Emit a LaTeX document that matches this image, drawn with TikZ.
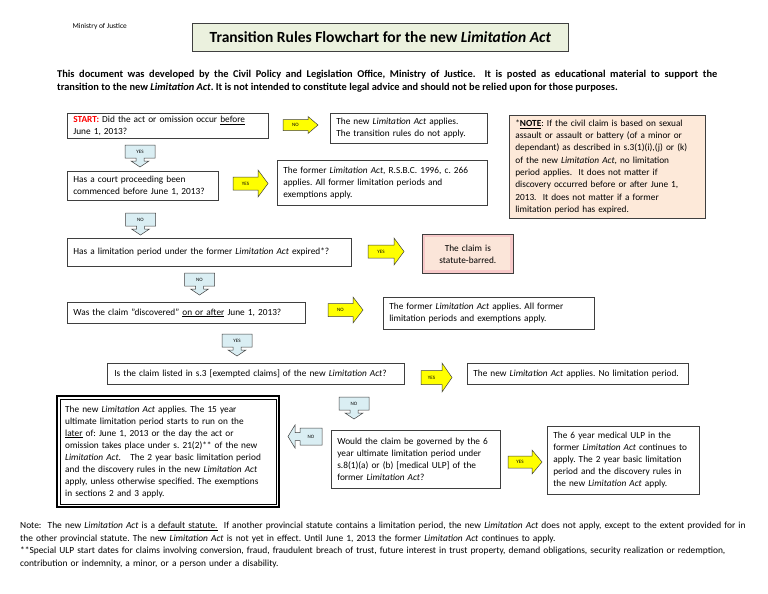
\documentclass[tikz,border=0pt]{standalone}
\usepackage{fontspec}
\setmainfont{Carlito}
\usepackage{xcolor}
\definecolor{edgegray}{HTML}{3F3F3F}
\definecolor{titlegreen}{HTML}{EBF1DE}
\definecolor{notepeach}{HTML}{FDE9D9}
\definecolor{barredpink}{HTML}{F7C9C9}
\definecolor{barredin}{HTML}{FBE5D9}
\definecolor{calloutblue}{HTML}{DAEEF3}
\definecolor{arrowyellow}{HTML}{FFFF00}
\newcommand{\LA}{\textit{Limitation Act}}
% yellow block arrow pointing right: name, x1, x2, y centre, half shaft, half head, label
\newcommand{\rightblock}[7]{%
  \filldraw[yarrow] (#2,{#4-#5}) -- ({#3-10},{#4-#5}) -- ({#3-10},{#4-#6}) -- (#3,#4)
    -- ({#3-10},{#4+#6}) -- ({#3-10},{#4+#5}) -- (#2,{#4+#5}) -- cycle;
  \node[arrtext] (#1) at ({(#2+#3-10)/2},#4) {#7};}
% blue callout pointing down: name, x centre, y top, label
\newcommand{\downcall}[4]{%
  \filldraw[barrow] ({#2-15},#3) -- ({#2+15},#3) -- ({#2+15},{#3+13}) -- ({#2+4},{#3+13})
    -- ({#2+4},{#3+16}) -- ({#2+9},{#3+16}) -- (#2,{#3+22}) -- ({#2-9},{#3+16})
    -- ({#2-4},{#3+16}) -- ({#2-4},{#3+13}) -- ({#2-15},{#3+13}) -- cycle;
  \node[arrtext] (#1) at (#2,{#3+6.5}) {#4};}
% blue callout pointing left: name, x right, y centre, label
\newcommand{\leftcall}[4]{%
  \filldraw[barrow] (#2,{#3-8.5}) -- (#2,{#3+8.5}) -- ({#2-22},{#3+8.5}) -- ({#2-22},{#3+4})
    -- ({#2-27},{#3+4}) -- ({#2-27},{#3+11.5}) -- ({#2-34},#3) -- ({#2-27},{#3-11.5})
    -- ({#2-27},{#3-4}) -- ({#2-22},{#3-4}) -- ({#2-22},{#3-8.5}) -- cycle;
  \node[arrtext] (#1) at ({#2-11},#3) {#4};}

\begin{document}
\frenchspacing
\begin{tikzpicture}[x=1pt,y=-1pt,
  every node/.style={font=\fontsize{9.3}{12}\selectfont},
  box/.style={draw=edgegray,line width=0.7pt,anchor=north west,align=left,
    inner xsep=6pt,inner ysep=0pt},
  yarrow/.style={fill=arrowyellow,draw=edgegray,line width=0.5pt},
  barrow/.style={fill=calloutblue,draw=edgegray,line width=0.5pt},
  arrtext/.style={font=\fontsize{5}{6}\selectfont,inner sep=0pt}]
  \useasboundingbox[fill=white] (0,0) rectangle (768,594);
  % header
  \node[anchor=west,font=\fontsize{7.4}{8}\selectfont] (ministry) at (69,27) {Ministry of Justice};
  \node[draw=edgegray,line width=0.8pt,fill=titlegreen,anchor=north west,minimum width=376pt,
    minimum height=28pt,font=\fontsize{15.5}{17}\selectfont\bfseries] (title) at (192,23)
    {Transition Rules Flowchart for the new \textit{Limitation Act}};
  \node[anchor=north west,text width=660pt,align=justify,inner sep=0pt,
    font=\fontsize{10.4}{12.5}\selectfont\bfseries] (intro) at (57,70)
    {This document was developed by the Civil Policy and Legislation Office, Ministry of Justice.\ \ It is posted as educational material to support the\linebreak
     transition to the new \LA. It is not intended to constitute legal advice and should not be relied upon for those purposes.};
  % question column and outcomes
  \node[box,minimum width=201pt,minimum height=25pt,text width=189pt] (start) at (67,113)
    {\textcolor{red}{\textbf{START:}} Did the act or omission occur \underline{before}\\June 1, 2013?};
  \node[box,minimum width=157pt,minimum height=30pt,text width=145pt] (newapplies) at (330,113)
    {The new \LA{} applies.\\The transition rules do not apply.};
  \node[box,fill=notepeach,minimum width=196pt,minimum height=103pt,text width=184pt,
    font=\fontsize{9.3}{12.3}\selectfont] (note) at (509,115)
    {*\underline{\textbf{NOTE}}: If the civil claim is based on sexual\\assault or assault or battery (of a minor or\\dependant) as described in s.3(1)(i),(j) or (k)\\of the new \LA, no limitation\\period applies.\ \ It does not matter if\\discovery occurred before or after June 1,\\2013.\ \ It does not matter if a former\\limitation period has expired.};
  \node[box,minimum width=151pt,minimum height=29pt,text width=139pt] (court) at (67,171)
    {Has a court proceeding been\\commenced before June 1, 2013?};
  \node[box,minimum width=210pt,minimum height=45pt,text width=198pt] (former) at (277,160)
    {The former \LA, R.S.B.C. 1996, c. 266\\applies. All former limitation periods and\\exemptions apply.};
  \node[box,minimum width=284pt,minimum height=28pt,text width=272pt] (expired) at (67,238)
    {Has a limitation period under the former \LA{} expired*?};
  \node[box,fill=barredpink,align=center,minimum width=91pt,minimum height=39pt,text width=79pt,
    path picture={\fill[barredin] ([shift={(3,3)}]path picture bounding box.north west)
      rectangle ([shift={(-3,-3)}]path picture bounding box.south east);}] (barred) at (422,234)
    {The claim is\\statute-barred.};
  \node[box,minimum width=238pt,minimum height=21pt,text width=226pt] (discovered) at (67,302)
    {Was the claim "discovered" \underline{on or after} June 1, 2013?};
  \node[box,minimum width=211pt,minimum height=32pt,text width=199pt] (formerall) at (383,297)
    {The former \LA{} applies. All former\\limitation periods and exemptions apply.};
  \node[box,minimum width=297pt,minimum height=21pt,text width=283pt,inner xsep=7pt] (exempt) at (107,363)
    {Is the claim listed in s.3 [exempted claims] of the new \LA?};
  \node[box,minimum width=221pt,minimum height=21pt,text width=209pt] (nolimit) at (467,363)
    {The new \LA{} applies. No limitation period.};
  \node[box,draw=black,line width=2.4pt,minimum width=222pt,minimum height=111pt,text width=206pt,
    inner xsep=8pt] (ulp15) at (56,395)
    {The new \LA{} applies. The 15 year\\ultimate limitation period starts to run on the\\\underline{later} of: June 1, 2013 or the day the act or\\omission takes place under s. 21(2)** of the new\\\LA.\ \ \ The 2 year basic limitation period\\and the discovery rules in the new \LA\\apply, unless otherwise specified. The exemptions\\in sections 2 and 3 apply.};
  \draw[line width=0.7pt] ([shift={(4.5,4.5)}]ulp15.north west) rectangle ([shift={(-4.5,-4.5)}]ulp15.south east);
  \node[box,minimum width=169pt,minimum height=58pt,text width=157pt] (medical) at (331,430)
    {Would the claim be governed by the 6\\year ultimate limitation period under\\s.8(1)(a) or (b) [medical ULP] of the\\former \LA?};
  \node[box,minimum width=152pt,minimum height=68pt,text width=140pt] (sixyear) at (547,426)
    {The 6 year medical ULP in the\\former \LA{} continues to\\apply. The 2 year basic limitation\\period and the discovery rules in\\the new \LA{} apply.};
  % yes / no arrows
  \rightblock{no1}{283}{318}{125}{5.5}{8.5}{NO}
  \rightblock{yes1}{233}{268}{183.5}{6.5}{13.5}{YES}
  \rightblock{yes2}{368}{404}{251.5}{6.5}{13.5}{YES}
  \rightblock{no2}{328}{363}{310}{6.5}{13}{NO}
  \rightblock{yes3}{421}{452}{377.5}{7}{14.5}{YES}
  \rightblock{yes4}{508}{542}{462}{6}{12}{YES}
  \downcall{yesd1}{140}{145}{YES}
  \downcall{nod1}{140.5}{213}{NO}
  \downcall{nod2}{199.5}{273}{NO}
  \downcall{yesd2}{237}{334}{YES}
  \downcall{nod3}{354}{397}{NO}
  \leftcall{nol1}{322}{436.5}{NO}
  % footnotes
  \node[anchor=north west,text width=760pt,align=left,inner sep=0pt,
    font=\fontsize{9.4}{12.5}\selectfont] (notes) at (20,522)
    {Note:\ \ The new \LA{} is a \underline{default statute.}\ \ If another provincial statute contains a limitation period, the new \LA{} does not apply, except to the extent provided for in\\
     the other provincial statute. The new \LA{} is not yet in effect. Until June 1, 2013 the former \LA{} continues to apply.\\{}
     **Special ULP start dates for claims involving conversion, fraud, fraudulent breach of trust, future interest in trust property, demand obligations, security realization or redemption,\\
     contribution or indemnity, a minor, or a person under a disability.};
\end{tikzpicture}
\end{document}
